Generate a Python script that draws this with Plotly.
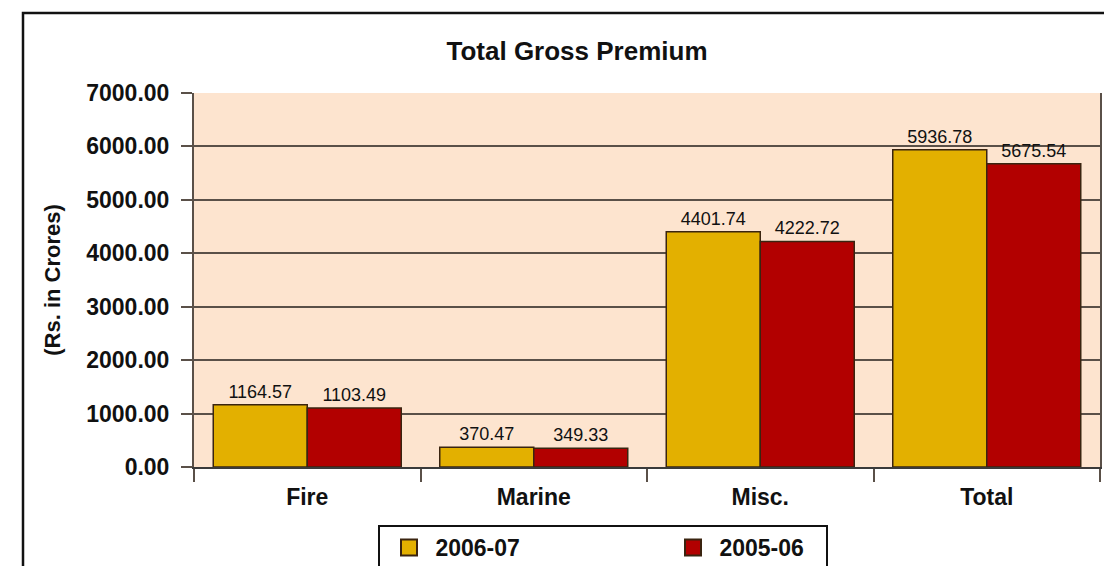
import plotly.graph_objects as go

# Gross premium by line of business (Rs. in Crores)
categories = ["Fire", "Marine", "Misc.", "Total"]
premium_2006_07 = [1164.57, 370.47, 4401.74, 5936.78]
premium_2005_06 = [1103.49, 349.33, 4222.72, 5675.54]
series_names = ["2006-07", "2005-06"]
y_ticks = [0, 1000, 2000, 3000, 4000, 5000, 6000, 7000]

YELLOW = "#E3B000"
RED = "#B20000"
EDGE = "#3a2410"
FONT = "Liberation Sans, Arial, sans-serif"

fig = go.Figure()

for name, values, color in [(series_names[0], premium_2006_07, YELLOW),
                            (series_names[1], premium_2005_06, RED)]:
    fig.add_trace(go.Bar(
        x=categories, y=values, name=name,
        marker=dict(color=color, line=dict(color=EDGE, width=1.5)),
        texttemplate="%{y:.2f}", textposition="outside",
        textfont=dict(family=FONT, size=18, color="#111111"),
        cliponaxis=False, showlegend=False,
    ))

# Legend entries with larger square swatches
for name, color in [(series_names[0], YELLOW), (series_names[1], RED)]:
    fig.add_trace(go.Scatter(
        x=[None], y=[None], mode="markers", name="\u00a0" + name,
        marker=dict(symbol="square", size=22, color=color,
                    line=dict(color=EDGE, width=2)),
        showlegend=True,
    ))

W, H = 1104, 566
L, R, T, B = 194, 4, 93, 99
pw, ph = W - L - R, H - T - B

def px_x(p):
    return (p - L) / pw

def px_y(p):
    return (H - B - p) / ph

fig.update_layout(
    width=W, height=H,
    margin=dict(l=L, r=R, t=T, b=B, autoexpand=False),
    paper_bgcolor="white",
    plot_bgcolor="#FDE4CF",
    barmode="group", bargap=0.17, bargroupgap=0,
    font=dict(family=FONT, color="#111111"),
    title=dict(text="Total Gross Premium", xref="container", x=577 / W,
               xanchor="center", yref="container", y=1 - 51 / H,
               yanchor="middle",
               font=dict(family=FONT, size=26, weight="bold", color="#111111")),
    legend=dict(orientation="h", xref="container", x=379 / W, xanchor="left",
                yref="container", y=1 - 526 / H, yanchor="top",
                bgcolor="rgba(0,0,0,0)", borderwidth=0,
                entrywidth=229, indentation=10,
                font=dict(family=FONT, size=23, weight="bold", color="#111111")),
    shapes=[
        # outer frame
        dict(type="path", xref="paper", yref="paper",
             path=f"M {px_x(23)},{px_y(600)} L {px_x(23)},{px_y(13)} L {px_x(1110)},{px_y(13)}",
             line=dict(color="#111111", width=2.5), layer="above"),
        # legend box
        dict(type="path", xref="paper", yref="paper",
             path=f"M {px_x(379)},{px_y(600)} L {px_x(379)},{px_y(526)} "
                  f"L {px_x(827)},{px_y(526)} L {px_x(827)},{px_y(600)}",
             line=dict(color="#111111", width=2), layer="above"),
    ],
)

fig.update_yaxes(
    range=[0, 7000], tickvals=y_ticks, tickformat=".2f",
    showgrid=True, gridcolor="#5a5048", gridwidth=2,
    showline=True, linecolor="#5a5048", linewidth=2, mirror=True,
    ticks="outside", ticklen=11, tickwidth=2, tickcolor="#5a5048",
    ticklabelstandoff=7,
    tickfont=dict(family=FONT, size=23, weight="bold", color="#111111"),
    title=dict(text="(Rs. in Crores)", standoff=20,
               font=dict(family=FONT, size=22, weight="bold", color="#111111")),
    zeroline=False,
)
fig.update_xaxes(
    showline=True, linecolor="#3a3a3a", linewidth=2, mirror=False,
    ticks="outside", tickson="boundaries", ticklen=13, tickwidth=2,
    tickcolor="#5a5048", ticklabelstandoff=8,
    tickfont=dict(family=FONT, size=23, weight="bold", color="#111111"),
)

fig.write_html("out.html")
